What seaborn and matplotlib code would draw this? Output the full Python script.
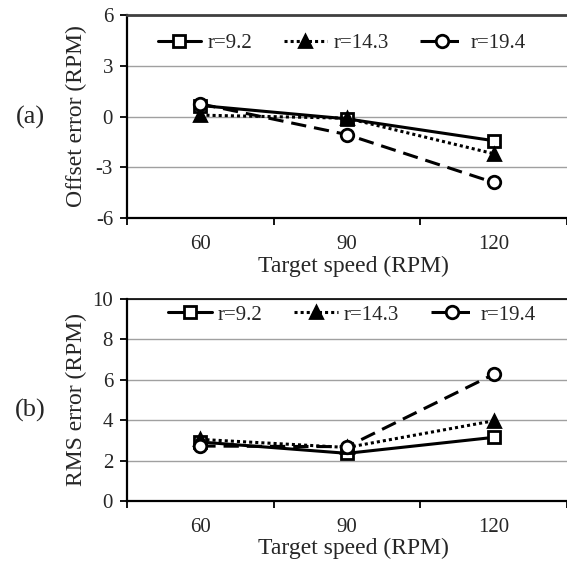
import matplotlib
matplotlib.use("Agg")
import matplotlib.pyplot as plt
import seaborn as sns
import pandas as pd

# ---- data ----
speeds = ["60", "90", "120"]
series_names = ["r=9.2", "r=14.3", "r=19.4"]
offset_r92 = [0.65, -0.14, -1.43]
offset_r143 = [0.08, -0.10, -2.20]
offset_r194 = [0.75, -1.07, -3.90]
rms_r92 = [2.92, 2.36, 3.15]
rms_r143 = [3.05, 2.65, 3.97]
rms_r194 = [2.72, 2.69, 6.27]
offset_ticks = [-6, -3, 0, 3, 6]
rms_ticks = [0, 2, 4, 6, 8, 10]

sns.set_style("white")
plt.rcParams["font.family"] = ["Liberation Serif", "DejaVu Serif"]
plt.rcParams["axes.unicode_minus"] = False

styles = {
    "r=9.2": dict(marker="s", markerfacecolor="white", linestyle="-"),
    "r=14.3": dict(marker="^", markerfacecolor="black", linestyle=(0, (1, 1))),
    "r=19.4": dict(marker="o", markerfacecolor="white", linestyle=(0, (5, 2.6))),
}

fig = plt.figure(figsize=(5.67, 5.61), dpi=100)
ax1 = fig.add_axes([127 / 567, 1 - 218 / 561, 440 / 567, 203 / 561])
ax2 = fig.add_axes([127 / 567, 1 - 501 / 561, 440 / 567, 202 / 561])


def draw(ax, values, yticks, ylabel, leg_anchor, xlab_y, top_color, top_lw, xpad):
    for name, vals in zip(series_names, values):
        df = pd.DataFrame({"speed": speeds, "val": vals})
        st = styles[name]
        sns.lineplot(data=df, x="speed", y="val", ax=ax, color="black",
                     linewidth=2.2, marker=st["marker"], markersize=9,
                     markerfacecolor=st["markerfacecolor"], markeredgecolor="black",
                     markeredgewidth=2.0, linestyle=st["linestyle"], label=name,
                     sort=False)
    ax.set_xlim(-0.5, 2.5)
    ax.set_ylim(yticks[0], yticks[-1])
    ax.set_yticks(yticks)
    ax.set_yticklabels([str(t) for t in yticks])
    ax.yaxis.grid(True, color="#a0a0a0", linewidth=1.0)
    ax.xaxis.grid(False)
    ax.set_axisbelow(True)
    # category boundaries as major ticks, labels on minor ticks at centres
    ax.set_xticks([-0.5, 0.5, 1.5, 2.5])
    ax.set_xticklabels(["", "", "", ""])
    ax.set_xticks([0, 1, 2], minor=True)
    ax.set_xticklabels(speeds, minor=True)
    ax.tick_params(axis="x", which="major", direction="out", length=5, width=1.3,
                   color="black", bottom=True)
    ax.tick_params(axis="x", which="minor", length=0, pad=xpad, labelsize=15)
    ax.tick_params(axis="y", which="major", direction="out", length=5, width=1.3,
                   color="black", left=True, pad=5, labelsize=15)
    for s in ["left", "bottom"]:
        ax.spines[s].set_color("black")
        ax.spines[s].set_linewidth(1.6)
    ax.spines["right"].set_visible(False)
    ax.spines["top"].set_color(top_color)
    ax.spines["top"].set_linewidth(top_lw)
    ax.set_xlabel("Target speed (RPM)", fontsize=17)
    ax.xaxis.set_label_coords(0.515, xlab_y)
    ax.set_ylabel(ylabel, fontsize=17)
    ax.yaxis.set_label_coords(-0.09, 0.5)
    ax.legend(loc="center", bbox_to_anchor=leg_anchor, ncol=3, frameon=False,
              fontsize=15, handlelength=2.1, handletextpad=0.3, columnspacing=1.5,
              borderpad=0, borderaxespad=0)


draw(ax1, [offset_r92, offset_r143, offset_r194], offset_ticks, "Offset error (RPM)",
     (0.4875, 0.862), -0.187, "#404040", 2.0, 12)
draw(ax2, [rms_r92, rms_r143, rms_r194], rms_ticks, "RMS error (RPM)",
     (0.511, 0.921), -0.182, "black", 1.2, 12)

fig.text(30 / 567, 1 - 117 / 561, "(a)", ha="center", va="center", fontsize=19)
fig.text(30 / 567, 1 - 410 / 561, "(b)", ha="center", va="center", fontsize=19)

fig.savefig("out.png", dpi=100, facecolor="white")
